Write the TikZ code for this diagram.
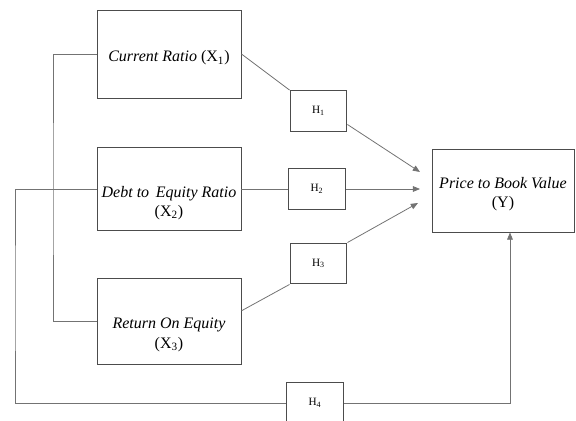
\documentclass[tikz,border=0pt]{standalone}
\usepackage{fontspec}
\setmainfont{Liberation Serif}
\usetikzlibrary{arrows.meta,calc}

\begin{document}
\begin{tikzpicture}[
    x=0.625pt, y=-0.625pt,
    every node/.style={font=\normalsize},
    varbox/.style={draw=black!70, line width=0.6pt, minimum width=#1, inner sep=0pt},
    varbox/.default={90pt},
    vartext/.style={align=center, inner sep=0pt},
    hbox/.style={draw=black!70, line width=0.6pt, minimum width=35.6pt,
                 minimum height=25.6pt, inner sep=0pt, font=\scriptsize},
    link/.style={draw=black!55, line width=0.5pt},
    arr/.style={link, -{Triangle[length=4.5pt,width=3.6pt]}},
  ]
    \def\px{0.625pt}  % one pixel of the page

    % Page frame
    \useasboundingbox (0,0) rectangle (576,421);

    % Independent variables
    \node[varbox, minimum height=88*\px,
          label={[vartext, yshift=-4*\px]center:{\textit{Current Ratio} (X\textsubscript{1})}}]
          (cr) at (169,54) {};
    \node[varbox, minimum height=83*\px,
          label={[vartext, yshift=-14*\px]center:{\textit{Debt to\, Equity Ratio}\\(X\textsubscript{2})}}]
          (der) at (169,189) {};
    \node[varbox, minimum height=86*\px,
          label={[vartext, yshift=-14*\px]center:{\textit{Return On Equity}\\(X\textsubscript{3})}}]
          (roe) at (169,321) {};

    % Dependent variable
    \node[varbox=88.75pt, minimum height=83*\px,
          label={[vartext, yshift=-4*\px]center:{\textit{Price to Book Value}\\(Y)}}]
          (pbv) at (503,190.5) {};

    % Hypotheses
    \node[hbox] (h1) at (318.5,111) {H\textsubscript{1}};
    \node[hbox] (h2) at (317,189) {H\textsubscript{2}};
    \node[hbox] (h3) at (318.5,263.5) {H\textsubscript{3}};
    \node[hbox] (h4) at (315,403) {H\textsubscript{4}};

    % Arrow ends and bends
    \coordinate (tA) at (420,172);
    \coordinate (tB) at (420,189);
    \coordinate (tC) at (418,203);
    \coordinate (inL) at (53,190);
    \coordinate (outL) at (15,300);

    % Partial effects
    \draw[link] (cr.east) -- (h1.north west);
    \draw[arr] (h1.-25) -- (tA);
    \draw[link] (der.east) -- (h2.west);
    \draw[arr] (h2.east) -- (tB);
    \draw[link] (roe.8) -- (h3.south west);
    \draw[arr] (h3.north east) -- (tC);

    % Joint effect
    \draw[link] (cr.west) -| (inL) |- (roe.west);
    \draw[link] (der.west) -| (outL) |- (h4.west);
    \draw[arr] (h4.east) -| ($(pbv.south)+(7,0)$);

  \end{tikzpicture}
\end{document}
